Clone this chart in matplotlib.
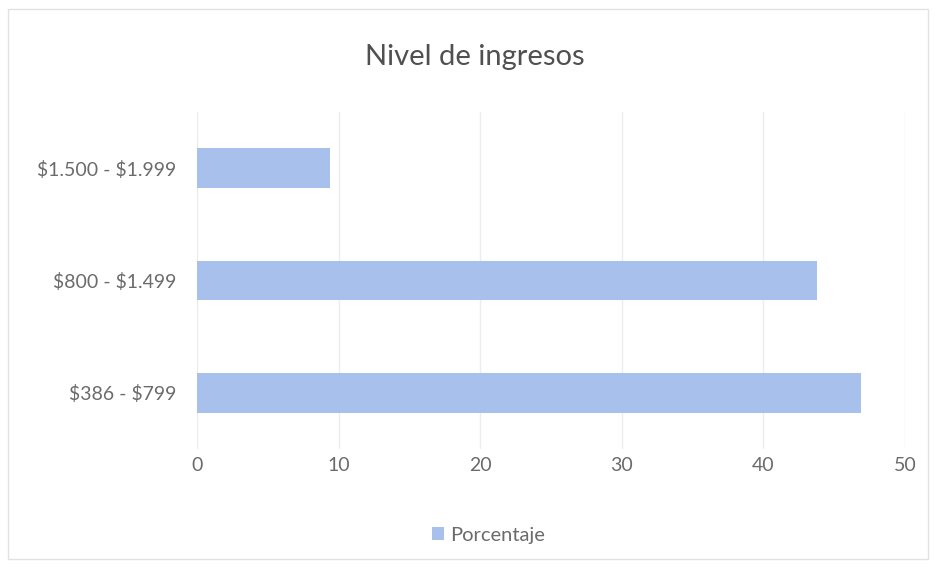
import matplotlib.pyplot as plt
from matplotlib.patches import Rectangle

categories = [r"\$386 - \$799", r"\$800 - \$1.499", r"\$1.500 - \$1.999"]
porcentaje = [46.9, 43.8, 9.4]
xticks = [0, 10, 20, 30, 40, 50]

plt.rcParams['font.family'] = ['Lato', 'DejaVu Sans']

fig = plt.figure(figsize=(9.4, 5.69), dpi=100)
ax = fig.add_axes([197/940, 1 - 449/569, (905-197)/940, (449-112)/569])

bar_color = '#a7c0ec'
ax.barh(range(len(categories)), porcentaje, height=0.355, color=bar_color,
        label='Porcentaje', zorder=2)

ax.set_xlim(0, 50)
ax.set_ylim(-0.5, 2.5)
ax.set_xticks(xticks)
ax.set_yticks(range(len(categories)))
ax.set_yticklabels(categories)
ax.tick_params(axis='both', length=0, colors='#6b6b6b', labelsize=14)
ax.tick_params(axis='x', pad=6)
ax.tick_params(axis='y', pad=15)
ax.grid(axis='x', color='#ececec', lw=1, zorder=0)
for s in ax.spines.values():
    s.set_visible(False)

fig.text(0.505, 1 - 57/569, "Nivel de ingresos", ha='center', va='center',
         fontsize=21, color='#505050')

leg = fig.legend(loc='center', bbox_to_anchor=(0.52, 1 - 535/569), frameon=False,
                 fontsize=14.5, handlelength=0.6, handleheight=0.6, handletextpad=0.3)
for t in leg.get_texts():
    t.set_color('#6b6b6b')

fig.patches.append(Rectangle((8/940, 10/569), 920/940, 550/569, transform=fig.transFigure,
                             fill=False, edgecolor='#e2e2e2', lw=1))

fig.savefig('out.png', dpi=100)
